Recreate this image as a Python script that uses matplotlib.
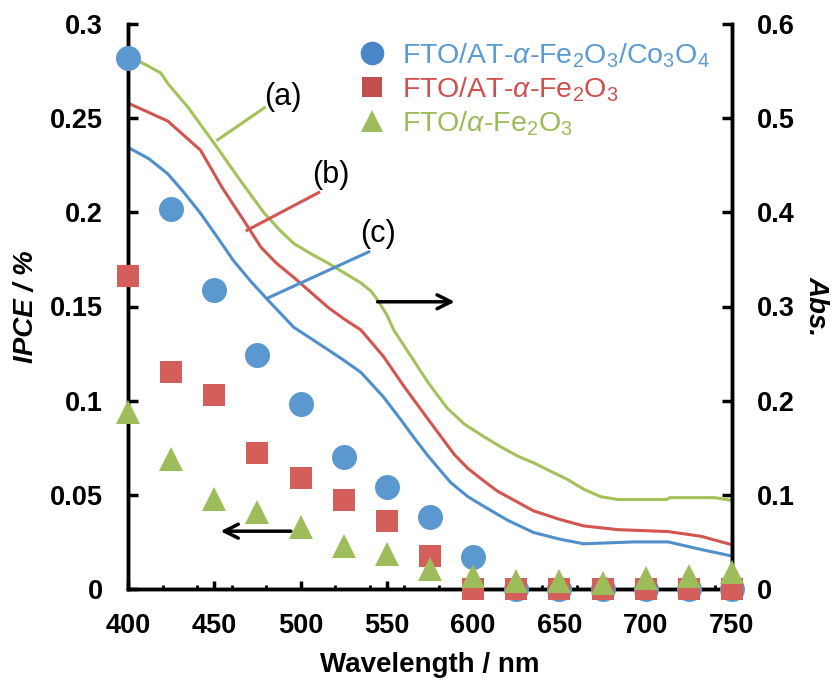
import matplotlib
matplotlib.use("Agg")
import matplotlib.pyplot as plt
from matplotlib.lines import Line2D

plt.rcParams['font.family'] = ['Liberation Sans', 'DejaVu Sans']
plt.rcParams['mathtext.fontset'] = 'custom'
plt.rcParams['mathtext.rm'] = 'Liberation Sans'
plt.rcParams['mathtext.it'] = 'Liberation Sans:italic'
plt.rcParams['mathtext.bf'] = 'Liberation Sans:bold'

# ---------------- data ----------------
wl_ipce = [400, 425, 450, 475, 500, 525, 550, 575, 600, 625, 650, 675, 700, 725, 750]
ipce_co3o4 = [0.282, 0.202, 0.159, 0.124, 0.098, 0.070, 0.054, 0.038, 0.017, 0, 0, 0, 0, 0, 0]
ipce_at = [0.166, 0.115, 0.103, 0.072, 0.059, 0.047, 0.036, 0.0175, 0, 0, 0, 0, 0, 0, 0]
ipce_fe2o3 = [0.094, 0.069, 0.048, 0.041, 0.033, 0.023, 0.0185, 0.0106, 0.007, 0.004, 0.004, 0.003, 0.006, 0.007, 0.009]

wl_a = [400, 410, 419, 423, 435, 452, 465, 479, 488, 496, 506, 516, 525, 535, 541, 545, 550,
        554, 564, 574, 585, 595, 606, 616, 626, 635, 645, 655, 664, 674, 684, 712, 714, 740, 750]
abs_a = [0.566, 0.557, 0.548, 0.537, 0.511, 0.468, 0.434, 0.399, 0.381, 0.367, 0.356, 0.346,
         0.336, 0.325, 0.316, 0.306, 0.291, 0.275, 0.247, 0.219, 0.192, 0.175, 0.162, 0.151,
         0.141, 0.134, 0.125, 0.116, 0.106, 0.098, 0.095, 0.095, 0.097, 0.097, 0.094]

wl_b = [400, 423, 442, 455, 469, 477, 486, 496, 506, 516, 525, 535, 548, 560, 574, 589, 597,
        606, 614, 622, 635, 650, 664, 684, 713, 732, 750]
abs_b = [0.516, 0.497, 0.466, 0.425, 0.386, 0.363, 0.346, 0.331, 0.315, 0.299, 0.287, 0.275,
         0.247, 0.215, 0.180, 0.143, 0.128, 0.115, 0.104, 0.096, 0.083, 0.074, 0.067, 0.063,
         0.061, 0.056, 0.047]

wl_c = [400, 412, 423, 432, 442, 452, 461, 471, 481, 496, 506, 516, 525, 535, 548, 558, 566,
        574, 587, 597, 606, 620, 635, 650, 664, 693, 713, 732, 750]
abs_c = [0.469, 0.457, 0.441, 0.422, 0.399, 0.373, 0.349, 0.327, 0.307, 0.278, 0.266, 0.254,
         0.243, 0.230, 0.204, 0.180, 0.160, 0.141, 0.113, 0.098, 0.088, 0.073, 0.060, 0.053,
         0.048, 0.050, 0.050, 0.042, 0.035]

labels = ['FTO/AT-$\\alpha$-Fe$_2$O$_3$/Co$_3$O$_4$',
          'FTO/AT-$\\alpha$-Fe$_2$O$_3$',
          'FTO/$\\alpha$-Fe$_2$O$_3$']
curve_labels = ['(a)', '(b)', '(c)']

x_ticks = [400, 450, 500, 550, 600, 650, 700, 750]
y1_ticks = [0, 0.05, 0.1, 0.15, 0.2, 0.25, 0.3]
y1_ticklabels = ['0', '0.05', '0.1', '0.15', '0.2', '0.25', '0.3']
y2_ticks = [0, 0.1, 0.2, 0.3, 0.4, 0.5, 0.6]
y2_ticklabels = ['0', '0.1', '0.2', '0.3', '0.4', '0.5', '0.6']

# ---------------- style ----------------
c_blue, c_red, c_green = '#5a98cf', '#d45f5a', '#9dbd5a'
l_blue, l_red, l_green = '#4f8fcc', '#d2554f', '#a3c25a'
t_blue, t_red, t_green = '#5b9bd5', '#d0504d', '#9bbb59'
TS = 19.5

fig = plt.figure(figsize=(8.33, 6.83), dpi=100)
ax1 = fig.add_axes([128/833, 1-589/683, (732-128)/833, (589-24)/683])
ax2 = ax1.twinx()
ax1.set_zorder(ax2.get_zorder() + 1)
ax1.patch.set_visible(False)

# absorbance curves
ax2.plot(wl_a, abs_a, color=l_green, lw=2.2)
ax2.plot(wl_b, abs_b, color=l_red, lw=2.2)
ax2.plot(wl_c, abs_c, color=l_blue, lw=2.2)

# IPCE markers
ax1.plot(wl_ipce, ipce_co3o4, 'o', color=c_blue, ms=18, mew=0, clip_on=False, zorder=3)
ax1.plot(wl_ipce, ipce_at, 's', color=c_red, ms=16.5, mew=0, clip_on=False, zorder=4)
ax1.plot(wl_ipce, ipce_fe2o3, '^', color=c_green, ms=17, mew=0, clip_on=False, zorder=5)

ax1.set_xlim(400, 750)
ax1.set_ylim(0, 0.3)
ax2.set_ylim(0, 0.6)

for ax in (ax1, ax2):
    ax.spines['top'].set_visible(False)
    for s in ax.spines.values():
        s.set_linewidth(2.5)

ax1.set_xticks(x_ticks)
ax1.set_xticklabels([str(v) for v in x_ticks], fontweight='bold', fontsize=TS)
ax1.set_xticks(list(range(400, 751, 20)), minor=True)
ax1.set_yticks(y1_ticks)
ax1.set_yticklabels(y1_ticklabels, fontweight='bold', fontsize=TS)
ax2.set_yticks(y2_ticks)
ax2.set_yticklabels(y2_ticklabels, fontweight='bold', fontsize=TS)

ax1.tick_params(axis='x', which='major', direction='in', length=6, width=2.5, pad=17)
ax1.tick_params(axis='x', which='minor', direction='in', length=3, width=2)
ax1.tick_params(axis='y', which='major', direction='in', length=7, width=2.5, pad=18)
ax2.tick_params(axis='y', which='major', direction='in', length=7, width=2.5, pad=18)

ax1.set_xlabel('Wavelength / nm', fontweight='bold', fontsize=20, labelpad=10)
ax1.set_ylabel('IPCE / %', fontweight='bold', fontstyle='italic', fontsize=20, labelpad=8)
ax2.set_ylabel('Abs.', fontweight='bold', fontstyle='italic', fontsize=20,
               rotation=270, va='bottom', labelpad=6)

# leader lines and curve labels (absorbance coords)
ax2.plot([452, 479], [0.477, 0.511], color=l_green, lw=2.2)
ax2.plot([469, 510.5], [0.381, 0.421], color=l_red, lw=2.2)
ax2.plot([481, 539.5], [0.309, 0.358], color=l_blue, lw=2.2)
ax2.text(490, 0.523, curve_labels[0], fontsize=22, ha='center', va='center')
ax2.text(517.5, 0.440, curve_labels[1], fontsize=22, ha='center', va='center')
ax2.text(545, 0.377, curve_labels[2], fontsize=22, ha='center', va='center')

# arrows
ax2.annotate('', xy=(591, 0.305), xytext=(543, 0.305),
             arrowprops=dict(arrowstyle='->', color='black', lw=2.5, mutation_scale=25))
ax1.annotate('', xy=(452, 0.0307), xytext=(496, 0.0307),
             arrowprops=dict(arrowstyle='->', color='black', lw=2.5, mutation_scale=25))

# legend
handles = [Line2D([], [], marker='o', ls='', color='#4a86c5', ms=17, mew=0),
           Line2D([], [], marker='s', ls='', color='#c0504d', ms=15, mew=0),
           Line2D([], [], marker='^', ls='', color=c_green, ms=16, mew=0)]
leg = ax1.legend(handles, labels, loc='upper left', bbox_to_anchor=(0.357, 0.99),
                 frameon=False, fontsize=20.5, labelspacing=0.2, handletextpad=0.45,
                 handlelength=1.2, borderaxespad=0)
for txt, col in zip(leg.get_texts(), [t_blue, t_red, t_green]):
    txt.set_color(col)

fig.savefig('out.png', dpi=100)
